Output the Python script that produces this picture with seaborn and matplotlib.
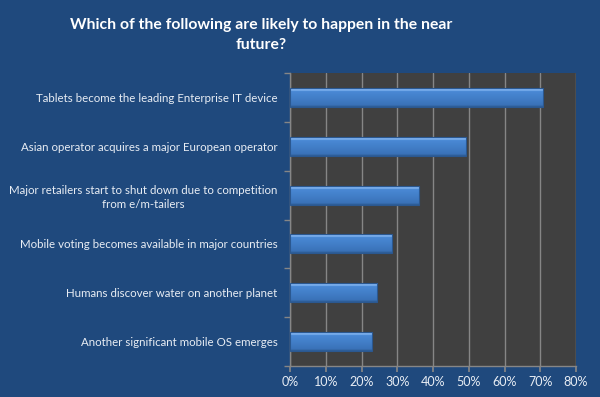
import matplotlib
matplotlib.use("Agg")
import matplotlib.pyplot as plt
import seaborn as sns
import numpy as np
import pandas as pd
from matplotlib.colors import LinearSegmentedColormap

categories = [
    "Tablets become the leading Enterprise IT device",
    "Asian operator acquires a major European operator",
    "Major retailers start to shut down due to competition\nfrom e/m-tailers",
    "Mobile voting becomes available in major countries",
    "Humans discover water on another planet",
    "Another significant mobile OS emerges",
]
values = [70.7, 49.1, 36.0, 28.4, 24.4, 22.9]
xticks = [0, 10, 20, 30, 40, 50, 60, 70, 80]
xticklabels = [f"{t}%" for t in xticks]
title = "Which of the following are likely to happen in the near\nfuture?"

sns.set_theme(style="dark")
plt.rcParams['font.family'] = ['Lato', 'DejaVu Sans']

bg = "#1F497D"
plot_bg = "#404040"
grid_c = "#868686"
text_c = "#E8EDF4"

fig = plt.figure(figsize=(6, 3.97), dpi=100, facecolor=bg)
ax = fig.add_axes([290/600, 1-366/397, (576-290)/600, (366-73)/397])
ax.set_facecolor(plot_bg)

df = pd.DataFrame({"cat": categories, "val": values})
sns.barplot(data=df, x="val", y="cat", orient="h", color="#4682CE",
            width=0.39, edgecolor="#2B5890", linewidth=0.8, ax=ax, zorder=3)

ax.set_xlim(0, 80)
ax.set_ylim(len(categories) - 0.5, -0.5)

# gradient bevel fill
cmap = LinearSegmentedColormap.from_list(
    "bev", [(0, "#2C5A92"), (0.1, "#3A72B8"), (0.5, "#4380CA"), (0.8, "#4A89D5"),
            (0.84, "#80B3F0"), (1.0, "#6EA3E6")])
grad = np.linspace(0, 1, 64).reshape(-1, 1)
for p in list(ax.patches):
    x0, y0 = p.get_x(), p.get_y()
    w, h = p.get_width(), p.get_height()
    im = ax.imshow(grad, cmap=cmap, aspect="auto",
                   extent=[x0, x0 + w, y0 + h, y0], origin="lower", zorder=3.5)
    im.set_clip_path(p)
    p.set_facecolor("none")
    p.set_zorder(4)

ax.set_xticks(xticks)
ax.set_xticklabels(xticklabels)
ax.xaxis.grid(True, color=grid_c, linewidth=1)
ax.yaxis.grid(False)
ax.set_axisbelow(True)
ax.set_xlabel("")
ax.set_ylabel("")

ax.set_yticks(range(len(categories)))
ax.set_yticklabels(categories, ha="right", multialignment="center")
ax.set_yticks(np.arange(-0.5, len(categories), 1), minor=True)
ax.tick_params(axis="y", which="major", length=0, pad=9, labelsize=8.3, colors=text_c)
ax.tick_params(axis="y", which="minor", length=4, color=grid_c, left=True)
ax.tick_params(axis="x", length=4, color=grid_c, labelsize=9, colors=text_c, bottom=True, pad=3)
for lab in ax.get_yticklabels():
    lab.set_linespacing(1.3)

for s in ["top", "right"]:
    ax.spines[s].set_visible(False)
for s in ["left", "bottom"]:
    ax.spines[s].set_color(grid_c)
    ax.spines[s].set_linewidth(1)

fig.text(261/600, 1-35/397, title, ha="center", va="center", color="white",
         fontsize=11.3, fontweight="bold", linespacing=1.6)

fig.savefig("out.png", dpi=100, facecolor=bg)
